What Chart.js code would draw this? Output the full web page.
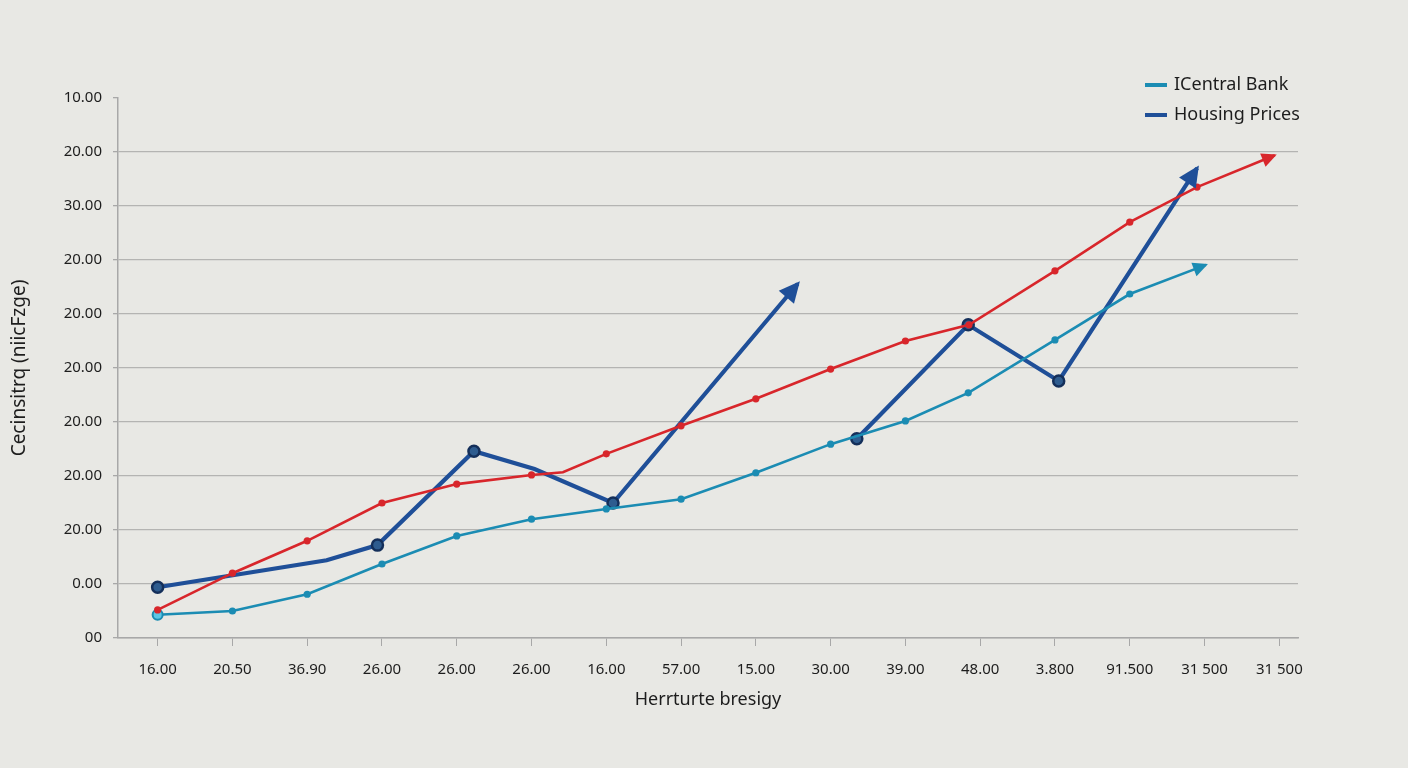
<!DOCTYPE html>
<html>
<head>
<meta charset="utf-8">
<script src="https://cdn.jsdelivr.net/npm/chart.js@4.4.1/dist/chart.umd.min.js"></script>
<style>
  html, body { margin: 0; padding: 0; background: #e8e8e4; }
  #wrap { position: relative; width: 1408px; height: 768px; }
  .legend { position: absolute; left: 1145px; font-family: "Noto Sans", sans-serif; font-size: 18px; color: #1d1d1d; }
  .legend span.swatch { display: inline-block; width: 22px; height: 4px; vertical-align: middle; margin-right: 7px; }
</style>
</head>
<body>
<div id="wrap">
  <canvas id="chart"></canvas>
  <div class="legend" style="top:71px"><span class="swatch" style="background:#1b8cb3"></span>ICentral Bank</div>
  <div class="legend" style="top:101px"><span class="swatch" style="background:#1f4f98"></span>Housing Prices</div>
</div>
<script>
// tick labels as printed on the picture
const xLabels = ['16.00', '20.50', '36.90', '26.00', '26.00', '26.00', '16.00', '57.00',
  '15.00', '30.00', '39.00', '48.00', '3.800', '91.500', '31 500', '31 500'];
const yLabels = ['10.00', '20.00', '30.00', '20.00', '20.00', '20.00', '20.00', '20.00', '20.00', '0.00', '00']; // top -> bottom

// red trend line (no legend entry), x in tick-index units
const redX = [0, 1, 2, 3, 4, 5, 5.42, 6, 7, 8, 9, 10, 10.85, 12, 13, 13.9, 14.94];
const redY = [0.52, 1.2, 1.8, 2.5, 2.85, 3.02, 3.07, 3.41, 3.93, 4.43, 4.98, 5.5, 5.8, 6.8, 7.7, 8.35, 8.94];
const redBends = [6];

// ICentral Bank
const bankX = [0, 1, 2, 3, 4, 5, 6, 7, 8, 9, 10, 10.84, 12, 13, 14.02];
const bankY = [0.43, 0.5, 0.81, 1.37, 1.89, 2.2, 2.39, 2.57, 3.06, 3.59, 4.02, 4.54, 5.52, 6.37, 6.91];

// Housing Prices, drawn in two pieces
const houseAX = [0, 2.26, 2.94, 4.23, 5.04, 6.09, 8.56];
const houseAY = [0.94, 1.44, 1.72, 3.46, 3.13, 2.5, 6.56];
const houseABends = [1, 4];
const houseBX = [9.35, 10.84, 12.05, 13.9];
const houseBY = [3.69, 5.8, 4.76, 8.7];

const RED = '#d8262b';
const TEAL = '#1b8cb3';
const BLUE = '#1f4f98';

function pts(xs, ys) {
  return xs.map((x, i) => ({x: x, y: ys[i]}));
}

// marker radius: none on bends and on the last point (arrow tip)
function radiusFor(n, bends, r) {
  return (ctx) => (ctx.dataIndex === n - 1 || bends.includes(ctx.dataIndex)) ? 0 : r;
}

const arrowPlugin = {
  id: 'arrows',
  afterDatasetsDraw(chart) {
    const ctx = chart.ctx;
    chart.data.datasets.forEach((ds, i) => {
      if (!ds.arrow) return;
      const pts = chart.getDatasetMeta(i).data;
      const p = pts[pts.length - 1], q = pts[pts.length - 2];
      const a = Math.atan2(p.y - q.y, p.x - q.x);
      const L = ds.arrow, W = ds.arrow * 0.95;
      const push = ds.borderWidth * 0.8; // cover the butt end of the line
      ctx.save();
      ctx.translate(p.x, p.y);
      ctx.rotate(a);
      ctx.beginPath();
      ctx.moveTo(push, 0);
      ctx.lineTo(push - L, -W / 2);
      ctx.lineTo(push - L, W / 2);
      ctx.closePath();
      ctx.fillStyle = ds.borderColor;
      ctx.fill();
      ctx.restore();
    });
  }
};

const font = {family: '"Noto Sans", sans-serif', size: 15};

new Chart(document.getElementById('chart'), {
  type: 'scatter',
  data: {
    datasets: [
      {
        label: '', data: pts(redX, redY), showLine: true, arrow: 15,
        borderColor: RED, backgroundColor: RED, borderWidth: 2.6,
        pointRadius: radiusFor(redX.length, redBends, 3.6), pointBorderWidth: 0
      },
      {
        label: 'ICentral Bank', data: pts(bankX, bankY), showLine: true, arrow: 15,
        borderColor: TEAL, borderWidth: 2.6,
        pointRadius: (c) => c.dataIndex === 0 ? 5 : radiusFor(bankX.length, [], 3.6)(c),
        pointBackgroundColor: (c) => c.dataIndex === 0 ? '#5cc6e6' : TEAL,
        pointBorderColor: TEAL,
        pointBorderWidth: (c) => c.dataIndex === 0 ? 2 : 0
      },
      {
        label: 'Housing Prices', data: pts(houseAX, houseAY), showLine: true, arrow: 21,
        borderColor: BLUE, borderWidth: 4.2,
        pointRadius: radiusFor(houseAX.length, houseABends, 5.5),
        pointBackgroundColor: '#2e5c8f', pointBorderColor: '#142f5a', pointBorderWidth: 2.5
      },
      {
        label: '', data: pts(houseBX, houseBY), showLine: true, arrow: 21,
        borderColor: BLUE, borderWidth: 4.2,
        pointRadius: radiusFor(houseBX.length, [], 5.5),
        pointBackgroundColor: '#2e5c8f', pointBorderColor: '#142f5a', pointBorderWidth: 2.5
      }
    ]
  },
  options: {
    responsive: true,
    maintainAspectRatio: false,
    animation: false,
    layout: {padding: {top: 98, right: 110, left: 0, bottom: 0}},
    plugins: {
      legend: {display: false},
      tooltip: {enabled: false}
    },
    scales: {
      x: {
        type: 'linear', min: -0.53, max: 15.25,
        afterBuildTicks: (s) => { s.ticks = xLabels.map((_, i) => ({value: i})); },
        afterFit: (s) => { s.height = 130; },
        ticks: {
          callback: (v) => xLabels[v], color: '#1d1d1d', font: font, padding: 15,
          maxRotation: 0, autoSkip: false
        },
        grid: {drawOnChartArea: false, drawTicks: true, tickLength: 8, color: '#a8a8a8'},
        border: {color: '#a8a8a8', width: 1.5},
        title: {
          display: true, text: 'Herrturte bresigy', color: '#1d1d1d',
          font: {family: '"Noto Sans", sans-serif', size: 18},
          padding: {top: 4, bottom: 57}
        }
      },
      y: {
        min: 0, max: 10,
        afterBuildTicks: (s) => { s.ticks = yLabels.map((_, i) => ({value: i})); },
        afterFit: (s) => { s.width = 118; },
        ticks: {
          callback: (v) => yLabels[yLabels.length - 1 - v], color: '#1d1d1d', font: font, padding: 11
        },
        grid: {
          color: (c) => (c.tick && c.tick.value === 10) ? 'rgba(0,0,0,0)' : '#b4b4b2',
          lineWidth: 1.3, tickLength: 5, tickColor: '#a8a8a8'
        },
        border: {color: '#a8a8a8', width: 1.5},
        title: {
          display: true, text: 'Cecinsitrq (niicFzge)', color: '#1d1d1d',
          font: {family: '"Noto Sans", sans-serif', size: 19},
          padding: {top: 8, bottom: 0}
        }
      }
    }
  },
  plugins: [arrowPlugin]
});
</script>
</body>
</html>
